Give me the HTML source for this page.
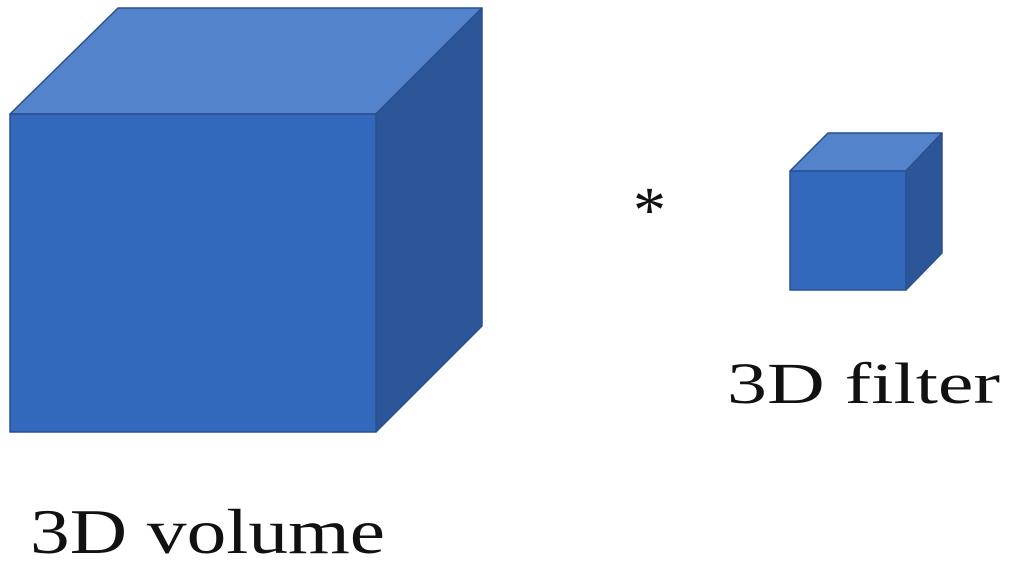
<!DOCTYPE html>
<html><head><style>
html,body{margin:0;padding:0;background:#fff;width:1012px;height:565px;overflow:hidden}
</style></head><body>
<svg width="1012" height="565" xmlns="http://www.w3.org/2000/svg">
<g stroke="#2a4f8f" stroke-width="1.5" stroke-linejoin="round">
<polygon points="10,114 118,8 482,8 376,114" fill="#5383cb"/>
<polygon points="376,114 482,8 482,326 376,432" fill="#2d5698"/>
<polygon points="10,114 376,114 376,432 10,432" fill="#3369bd"/>
<polygon points="790,171 828,133 942,133 906,171" fill="#5383cb"/>
<polygon points="906,171 942,133 942,253 906,290" fill="#2d5698"/>
<polygon points="790,171 906,171 906,290 790,290" fill="#3369bd"/>
</g>
<g font-family="'Liberation Serif',serif" fill="#111">
<text x="30" y="553" font-size="63" textLength="355" lengthAdjust="spacingAndGlyphs">3D volume</text>
<text x="727" y="403" font-size="58" textLength="273" lengthAdjust="spacingAndGlyphs">3D filter</text>
<text x="633" y="232" font-size="66">*</text>
</g>
</svg>
</body></html>
